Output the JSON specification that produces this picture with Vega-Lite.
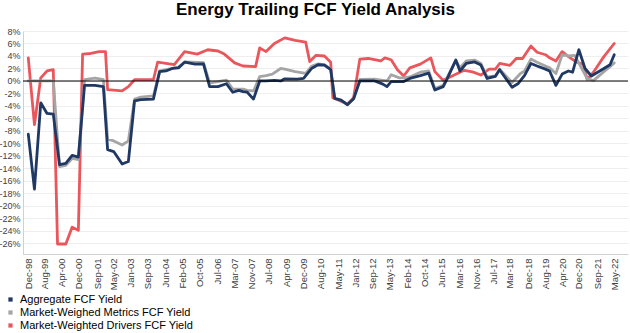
{
  "$schema": "https://vega.github.io/schema/vega-lite/v6.json",
  "width": 605,
  "height": 223,
  "autosize": {"type": "none"},
  "padding": {"left": 23, "top": 31, "right": 2, "bottom": 79},
  "background": "white",
  "title": {"text": "Energy Trailing FCF Yield Analysis", "font": "Liberation Sans", "fontSize": 17, "fontWeight": "bold", "color": "#000000", "anchor": "middle", "offset": 8, "dx": -10},
  "config": {"view": {"stroke": null}, "font": "Liberation Sans", "axis": {"labelOverlap": false, "labelFont": "Liberation Sans", "tickCount": 100}},
  "datasets": {
    "agg": [
      {"date": "1998-12", "value": -8.5}, {"date": "1999-03", "value": -17.3}, {"date": "1999-06", "value": -3.5}, {"date": "1999-09", "value": -5.2}, {"date": "1999-12", "value": -5.3},
      {"date": "2000-03", "value": -13.4}, {"date": "2000-06", "value": -13.2}, {"date": "2000-09", "value": -11.9}, {"date": "2000-12", "value": -12.2},
      {"date": "2001-03", "value": -0.7}, {"date": "2001-08", "value": -0.7}, {"date": "2001-12", "value": -0.9},
      {"date": "2002-02", "value": -11.0}, {"date": "2002-05", "value": -11.3}, {"date": "2002-09", "value": -13.3}, {"date": "2002-12", "value": -12.9},
      {"date": "2003-03", "value": -3.2}, {"date": "2003-06", "value": -3.0}, {"date": "2003-12", "value": -2.9},
      {"date": "2004-03", "value": 1.5}, {"date": "2004-06", "value": 1.6}, {"date": "2004-09", "value": 2.0}, {"date": "2004-12", "value": 2.1},
      {"date": "2005-03", "value": 3.0}, {"date": "2005-08", "value": 2.7}, {"date": "2005-12", "value": 2.75},
      {"date": "2006-03", "value": -0.9}, {"date": "2006-07", "value": -0.9}, {"date": "2006-11", "value": -0.45},
      {"date": "2007-02", "value": -1.8}, {"date": "2007-05", "value": -1.5}, {"date": "2007-07", "value": -1.7}, {"date": "2007-09", "value": -1.8}, {"date": "2007-12", "value": -2.9},
      {"date": "2008-03", "value": 0.0}, {"date": "2008-06", "value": 0.0}, {"date": "2008-10", "value": 0.1},
      {"date": "2009-01", "value": 0.0}, {"date": "2009-03", "value": 0.35}, {"date": "2009-09", "value": 0.3}, {"date": "2009-12", "value": 0.4},
      {"date": "2010-04", "value": 2.05}, {"date": "2010-07", "value": 2.6}, {"date": "2010-10", "value": 2.55},
      {"date": "2011-01", "value": 1.8}, {"date": "2011-03", "value": -2.8}, {"date": "2011-06", "value": -3.05}, {"date": "2011-09", "value": -3.8}, {"date": "2011-12", "value": -2.85},
      {"date": "2012-03", "value": 0.0}, {"date": "2012-10", "value": 0.0}, {"date": "2012-11", "value": -0.1},
      {"date": "2013-02", "value": -0.5}, {"date": "2013-04", "value": -0.9}, {"date": "2013-06", "value": -0.1}, {"date": "2013-12", "value": -0.1},
      {"date": "2014-03", "value": 0.4}, {"date": "2014-08", "value": 0.85}, {"date": "2014-12", "value": 1.25},
      {"date": "2015-03", "value": -1.45}, {"date": "2015-07", "value": -0.9}, {"date": "2015-09", "value": 0.45},
      {"date": "2016-01", "value": 3.35}, {"date": "2016-03", "value": 1.6}, {"date": "2016-06", "value": 2.8}, {"date": "2016-10", "value": 3.05},
      {"date": "2017-01", "value": 2.55}, {"date": "2017-04", "value": 0.4}, {"date": "2017-08", "value": 0.75}, {"date": "2017-10", "value": 1.8},
      {"date": "2018-04", "value": -1.0}, {"date": "2018-07", "value": -0.4}, {"date": "2018-10", "value": 0.9},
      {"date": "2019-01", "value": 2.8}, {"date": "2019-04", "value": 2.4}, {"date": "2019-08", "value": 1.9}, {"date": "2019-10", "value": 1.6},
      {"date": "2020-01", "value": -0.7}, {"date": "2020-04", "value": 1.1}, {"date": "2020-07", "value": 1.6}, {"date": "2020-09", "value": 1.4}, {"date": "2020-12", "value": 5.0},
      {"date": "2021-03", "value": 2.0}, {"date": "2021-06", "value": 0.8}, {"date": "2021-11", "value": 1.8},
      {"date": "2022-03", "value": 2.6}, {"date": "2022-05", "value": 4.2}
    ],
    "met": [
      {"date": "1998-12", "value": 0.0}, {"date": "1999-12", "value": 0.0},
      {"date": "2000-03", "value": -13.7}, {"date": "2000-06", "value": -13.5}, {"date": "2000-09", "value": -12.4}, {"date": "2000-12", "value": -12.6},
      {"date": "2001-03", "value": 0.2}, {"date": "2001-08", "value": 0.45}, {"date": "2001-12", "value": 0.2},
      {"date": "2002-02", "value": -9.3}, {"date": "2002-05", "value": -9.6}, {"date": "2002-09", "value": -10.25}, {"date": "2002-12", "value": -9.6},
      {"date": "2003-03", "value": -2.9}, {"date": "2003-06", "value": -2.6}, {"date": "2003-12", "value": -2.4},
      {"date": "2004-03", "value": 1.6}, {"date": "2004-12", "value": 2.2},
      {"date": "2005-03", "value": 3.05}, {"date": "2005-12", "value": 2.95},
      {"date": "2006-03", "value": -0.3}, {"date": "2006-07", "value": -0.1}, {"date": "2006-11", "value": 0.15},
      {"date": "2007-02", "value": -1.3}, {"date": "2007-07", "value": -1.3}, {"date": "2007-09", "value": -1.5}, {"date": "2007-12", "value": -1.6},
      {"date": "2008-03", "value": 0.7}, {"date": "2008-06", "value": 0.85}, {"date": "2008-09", "value": 1.1},
      {"date": "2009-01", "value": 2.0}, {"date": "2009-03", "value": 1.9}, {"date": "2009-08", "value": 1.5},
      {"date": "2010-01", "value": 1.2}, {"date": "2010-04", "value": 2.4}, {"date": "2010-07", "value": 2.75}, {"date": "2010-10", "value": 2.6},
      {"date": "2011-01", "value": 1.9}, {"date": "2011-03", "value": -2.8}, {"date": "2011-06", "value": -3.05}, {"date": "2011-09", "value": -3.8}, {"date": "2011-12", "value": -2.85},
      {"date": "2012-03", "value": 0.25}, {"date": "2012-10", "value": 0.3},
      {"date": "2013-02", "value": 0.1}, {"date": "2013-04", "value": 0.0}, {"date": "2013-06", "value": 1.0}, {"date": "2013-10", "value": 0.5}, {"date": "2013-12", "value": 0.5},
      {"date": "2014-03", "value": 0.65}, {"date": "2014-08", "value": 1.4}, {"date": "2014-12", "value": 1.6},
      {"date": "2015-03", "value": -1.2}, {"date": "2015-07", "value": -0.7}, {"date": "2015-09", "value": 0.65},
      {"date": "2016-01", "value": 3.3}, {"date": "2016-03", "value": 2.1}, {"date": "2016-06", "value": 3.2}, {"date": "2016-10", "value": 3.35},
      {"date": "2017-01", "value": 2.8}, {"date": "2017-04", "value": 0.65}, {"date": "2017-08", "value": 0.8}, {"date": "2017-10", "value": 1.9},
      {"date": "2018-04", "value": -0.25}, {"date": "2018-08", "value": 1.2}, {"date": "2018-10", "value": 1.6},
      {"date": "2019-01", "value": 3.5}, {"date": "2019-04", "value": 3.0}, {"date": "2019-08", "value": 2.4}, {"date": "2019-10", "value": 2.1},
      {"date": "2020-01", "value": 1.2}, {"date": "2020-04", "value": 4.2}, {"date": "2020-07", "value": 4.0}, {"date": "2020-10", "value": 4.1},
      {"date": "2021-04", "value": 0.4}, {"date": "2021-07", "value": 0.05}, {"date": "2021-12", "value": 1.5},
      {"date": "2022-03", "value": 2.3}, {"date": "2022-05", "value": 2.9}
    ],
    "drv": [
      {"date": "1998-12", "value": 3.7}, {"date": "1999-03", "value": -7.0}, {"date": "1999-06", "value": 0.5}, {"date": "1999-09", "value": 1.6}, {"date": "1999-12", "value": 1.8},
      {"date": "2000-02", "value": -26.1}, {"date": "2000-06", "value": -26.1}, {"date": "2000-09", "value": -23.4}, {"date": "2000-12", "value": -23.9},
      {"date": "2001-02", "value": 4.3}, {"date": "2001-06", "value": 4.4}, {"date": "2001-10", "value": 4.7},
      {"date": "2002-01", "value": 4.7}, {"date": "2002-02", "value": -1.4}, {"date": "2002-09", "value": -1.6}, {"date": "2002-12", "value": -0.9},
      {"date": "2003-03", "value": 0.2}, {"date": "2003-12", "value": 0.2},
      {"date": "2004-02", "value": 3.0}, {"date": "2004-10", "value": 2.6},
      {"date": "2005-03", "value": 4.7}, {"date": "2005-09", "value": 4.3},
      {"date": "2006-02", "value": 5.0}, {"date": "2006-07", "value": 4.8}, {"date": "2006-10", "value": 4.3},
      {"date": "2007-03", "value": 2.9}, {"date": "2007-07", "value": 2.4},
      {"date": "2008-01", "value": 2.3}, {"date": "2008-03", "value": 5.3}, {"date": "2008-06", "value": 4.7}, {"date": "2008-10", "value": 6.0},
      {"date": "2009-03", "value": 6.9}, {"date": "2009-08", "value": 6.5},
      {"date": "2010-01", "value": 6.2}, {"date": "2010-03", "value": 3.1}, {"date": "2010-06", "value": 4.1}, {"date": "2010-10", "value": 4.0},
      {"date": "2011-01", "value": 3.0}, {"date": "2011-02", "value": -2.7}, {"date": "2011-09", "value": -3.7}, {"date": "2011-12", "value": -2.7},
      {"date": "2012-03", "value": 3.5}, {"date": "2012-07", "value": 3.6}, {"date": "2012-10", "value": 3.4},
      {"date": "2013-01", "value": 3.2}, {"date": "2013-03", "value": 3.7}, {"date": "2013-06", "value": 3.4}, {"date": "2013-09", "value": 1.8}, {"date": "2013-12", "value": 0.8},
      {"date": "2014-03", "value": 2.1}, {"date": "2014-08", "value": 2.7},
      {"date": "2015-01", "value": 3.7}, {"date": "2015-03", "value": 1.5}, {"date": "2015-07", "value": 0.1}, {"date": "2015-12", "value": 0.9},
      {"date": "2016-05", "value": 1.7}, {"date": "2016-09", "value": 1.45},
      {"date": "2017-01", "value": 0.95}, {"date": "2017-05", "value": 1.9}, {"date": "2017-08", "value": 1.9}, {"date": "2017-10", "value": 2.8},
      {"date": "2018-03", "value": 2.5}, {"date": "2018-06", "value": 3.6}, {"date": "2018-09", "value": 3.6},
      {"date": "2019-01", "value": 5.6}, {"date": "2019-04", "value": 4.6}, {"date": "2019-08", "value": 4.2}, {"date": "2019-10", "value": 3.7},
      {"date": "2020-01", "value": 3.2}, {"date": "2020-04", "value": 4.7}, {"date": "2020-07", "value": 3.9}, {"date": "2020-11", "value": 3.0},
      {"date": "2021-02", "value": 2.7}, {"date": "2021-04", "value": 0.25}, {"date": "2021-07", "value": 1.4}, {"date": "2021-12", "value": 3.9},
      {"date": "2022-05", "value": 6.0}
    ]
  },
  "layer": [
    {
      "data": {"name": "drv"},
      "mark": {"type": "line", "strokeWidth": 2.8, "strokeJoin": "round", "strokeCap": "round"},
      "encoding": {
        "x": {
          "field": "date", "type": "temporal",
          "scale": {"domain": [{"year": 1998, "month": 9, "date": 15}, {"year": 2022, "month": 11, "date": 18}]},
          "axis": {
            "title": null, "format": "%b-%y", "labelAngle": -90, "labelAlign": "right", "labelBaseline": "middle",
            "labelFontSize": 9.5, "labelColor": "#404040", "labelPadding": 4, "ticks": false, "grid": false, "tickCount": 100,
            "domainColor": "#d0d0d0", "labelOverlap": false, "labelFlush": false, "labelBound": false,
            "values": [
              {"year": 1998, "month": 12, "date": 1}, {"year": 1999, "month": 8, "date": 1}, {"year": 2000, "month": 4, "date": 1}, {"year": 2000, "month": 12, "date": 1},
              {"year": 2001, "month": 9, "date": 1}, {"year": 2002, "month": 5, "date": 1}, {"year": 2003, "month": 1, "date": 1}, {"year": 2003, "month": 9, "date": 1},
              {"year": 2004, "month": 6, "date": 1}, {"year": 2005, "month": 2, "date": 1}, {"year": 2005, "month": 10, "date": 1}, {"year": 2006, "month": 7, "date": 1},
              {"year": 2007, "month": 3, "date": 1}, {"year": 2007, "month": 11, "date": 1}, {"year": 2008, "month": 7, "date": 1}, {"year": 2009, "month": 4, "date": 1},
              {"year": 2009, "month": 12, "date": 1}, {"year": 2010, "month": 8, "date": 1}, {"year": 2011, "month": 5, "date": 1}, {"year": 2012, "month": 1, "date": 1},
              {"year": 2012, "month": 9, "date": 1}, {"year": 2013, "month": 5, "date": 1}, {"year": 2014, "month": 2, "date": 1}, {"year": 2014, "month": 10, "date": 1},
              {"year": 2015, "month": 6, "date": 1}, {"year": 2016, "month": 3, "date": 1}, {"year": 2016, "month": 11, "date": 1}, {"year": 2017, "month": 7, "date": 1},
              {"year": 2018, "month": 3, "date": 1}, {"year": 2018, "month": 12, "date": 1}, {"year": 2019, "month": 8, "date": 1}, {"year": 2020, "month": 4, "date": 1},
              {"year": 2020, "month": 12, "date": 1}, {"year": 2021, "month": 9, "date": 1}, {"year": 2022, "month": 5, "date": 1}
            ]
          }
        },
        "y": {
          "field": "value", "type": "quantitative",
          "scale": {"domain": [-27.7, 8], "nice": false, "zero": false},
          "axis": {
            "title": null, "values": [-26, -24, -22, -20, -18, -16, -14, -12, -10, -8, -6, -4, -2, 0, 2, 4, 6, 8],
            "labelExpr": "datum.value + '%'", "labelFontSize": 9, "labelColor": "#404040", "labelPadding": 3, "tickCount": 100,
            "labelOverlap": false, "labelBound": false, "labelFlush": false,
            "ticks": false, "gridColor": "#eeeeee", "gridWidth": 1, "domainColor": "#d0d0d0"
          }
        },
        "color": {
          "datum": "Market-Weighted Drivers FCF Yield",
          "scale": {
            "domain": ["Aggregate FCF Yield", "Market-Weighed Metrics FCF Yield", "Market-Weighted Drivers FCF Yield"],
            "range": ["#1f3864", "#a5a5a5", "#e9575d"]
          },
          "legend": {
            "title": null, "orient": "none", "legendX": -18, "legendY": 263, "direction": "vertical",
            "symbolType": "square", "symbolSize": 18, "labelFontSize": 11, "labelColor": "#000000", "labelFont": "Liberation Sans",
            "labelLimit": 400, "rowPadding": 1, "labelOffset": 4,
            "encode": {"symbols": {"update": {"fill": {"scale": "color", "field": "value"}, "strokeWidth": {"value": 0}}}}
          }
        }
      }
    },
    {
      "data": {"name": "met"},
      "mark": {"type": "line", "strokeWidth": 2.8, "strokeJoin": "round", "strokeCap": "round"},
      "encoding": {
        "x": {"field": "date", "type": "temporal"},
        "y": {"field": "value", "type": "quantitative"},
        "color": {"datum": "Market-Weighed Metrics FCF Yield"}
      }
    },
    {
      "data": {"name": "agg"},
      "mark": {"type": "line", "strokeWidth": 2.8, "strokeJoin": "round", "strokeCap": "round"},
      "encoding": {
        "x": {"field": "date", "type": "temporal"},
        "y": {"field": "value", "type": "quantitative"},
        "color": {"datum": "Aggregate FCF Yield"}
      }
    },
    {
      "data": {"values": [{"level": 0}]},
      "mark": {"type": "rule", "color": "#000000", "strokeWidth": 1.1},
      "encoding": {"y": {"field": "level", "type": "quantitative"}}
    }
  ]
}
